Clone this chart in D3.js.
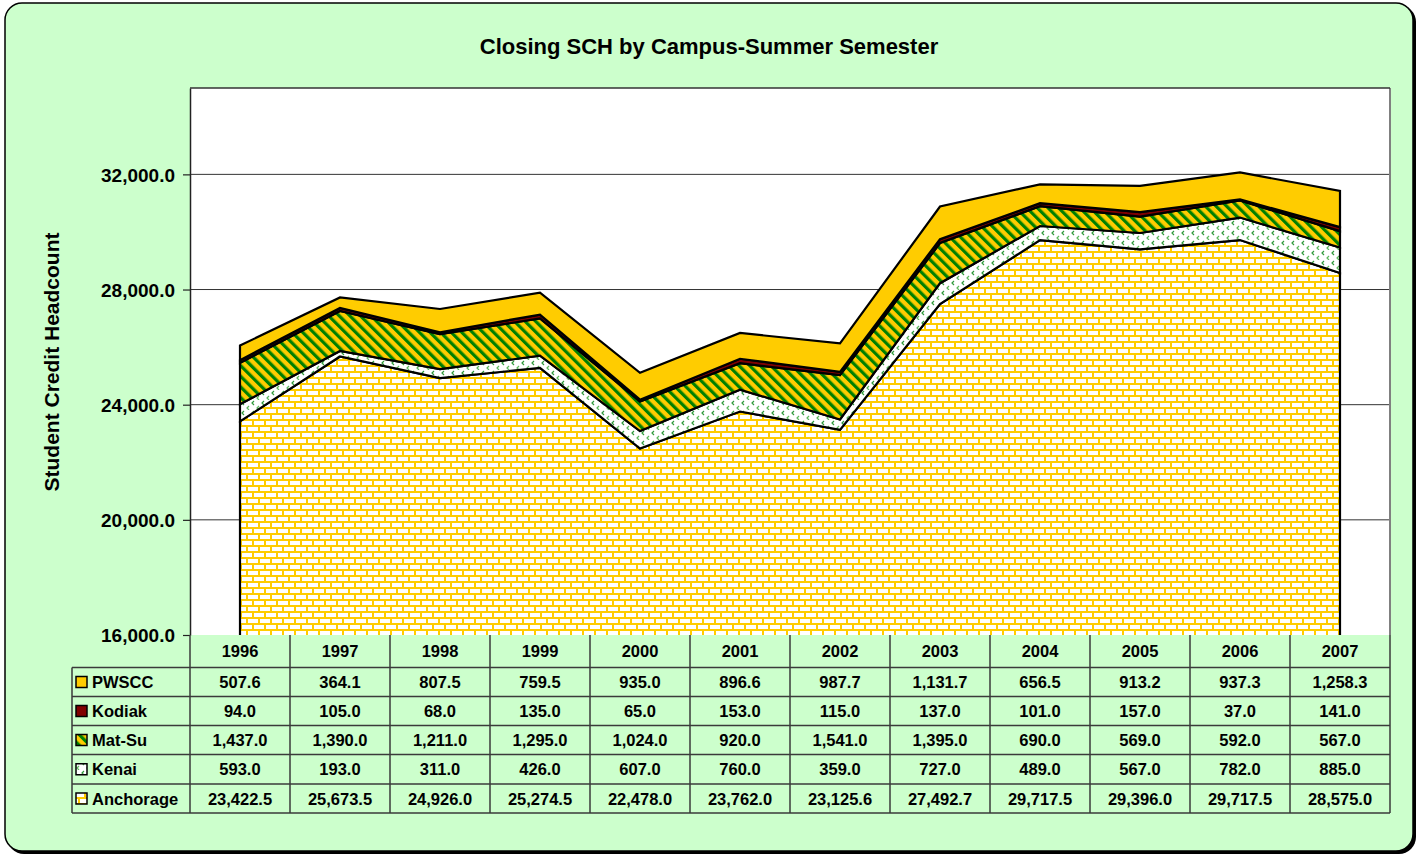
<!DOCTYPE html>
<html><head><meta charset="utf-8">
<script src="https://cdn.jsdelivr.net/npm/d3@7"></script>
<style>
html,body{margin:0;padding:0;background:#fff;}
svg{display:block;font-family:"Liberation Sans",Arial,sans-serif;}
</style></head>
<body>
<svg id="chart" width="1419" height="856"></svg>
<script>
const years = ["1996","1997","1998","1999","2000","2001","2002","2003","2004","2005","2006","2007"];
const anchorage = [23422.5,25673.5,24926.0,25274.5,22478.0,23762.0,23125.6,27492.7,29717.5,29396.0,29717.5,28575.0];
const kenai = [593.0,193.0,311.0,426.0,607.0,760.0,359.0,727.0,489.0,567.0,782.0,885.0];
const matsu = [1437.0,1390.0,1211.0,1295.0,1024.0,920.0,1541.0,1395.0,690.0,569.0,592.0,567.0];
const kodiak = [94.0,105.0,68.0,135.0,65.0,153.0,115.0,137.0,101.0,157.0,37.0,141.0];
const pwscc = [507.6,364.1,807.5,759.5,935.0,896.6,987.7,1131.7,656.5,913.2,937.3,1258.3];
const yTicks = [16000,20000,24000,28000,32000];
const title = "Closing SCH by Campus-Summer Semester";
const yTitle = "Student Credit Headcount";

const seriesNames = ["Anchorage","Kenai","Mat-Su","Kodiak","PWSCC"];
const seriesVals = [anchorage,kenai,matsu,kodiak,pwscc];
const fills = ["url(#brick)","url(#kenaiPat)","url(#stripes)","#800000","#FFCC00"];

const svg = d3.select("#chart");
const defs = svg.append("defs");

// brick pattern
const brick = defs.append("pattern").attr("id","brick").attr("patternUnits","userSpaceOnUse")
  .attr("width",12).attr("height",12);
brick.append("rect").attr("width",12).attr("height",12).attr("fill","#FFCC00");
[[2,1],[-4,7],[8,7]].forEach(([x,y])=>{
  brick.append("rect").attr("x",x).attr("y",y).attr("width",10).attr("height",4).attr("fill","#fff");
});
// kenai pattern
const kp = defs.append("pattern").attr("id","kenaiPat").attr("patternUnits","userSpaceOnUse")
  .attr("width",10).attr("height",10);
kp.append("rect").attr("width",10).attr("height",10).attr("fill","#fff");
kp.append("path").attr("d","M4,1 L2,3 L4,5").attr("fill","none").attr("stroke","#2f9a3a").attr("stroke-width",1.2);
kp.append("path").attr("d","M9,6 L7,8 L9,10").attr("fill","none").attr("stroke","#5cb85c").attr("stroke-width",1.2);
// stripes pattern
const sp = defs.append("pattern").attr("id","stripes").attr("patternUnits","userSpaceOnUse")
  .attr("width",7.5).attr("height",7.5).attr("patternTransform","rotate(-45)");
sp.append("rect").attr("width",7.5).attr("height",7.5).attr("fill","#FFCC00");
sp.append("rect").attr("width",3.2).attr("height",7.5).attr("fill","#008000");

// outer frame
svg.append("rect").attr("x",7).attr("y",5).attr("width",1409).attr("height",849).attr("rx",17)
  .attr("fill","#000");
svg.append("rect").attr("x",5).attr("y",3).attr("width",1408).attr("height",848).attr("rx",17)
  .attr("fill","#CCFFCC").attr("stroke","#000").attr("stroke-width",1.5);

const plotL=190, plotR=1390, plotT=88, plotB=635;
const x = d3.scaleBand().domain(years).range([plotL,plotR]);
const y = d3.scaleLinear().domain([16000,35000]).range([plotB,plotT]);

svg.append("rect").attr("x",plotL).attr("y",plotT).attr("width",plotR-plotL).attr("height",plotB-plotT).attr("fill","#fff");

// gridlines
svg.append("g").selectAll("line").data(yTicks.filter(d=>d>16000)).join("line")
  .attr("x1",plotL).attr("x2",plotR).attr("y1",d=>y(d)).attr("y2",d=>y(d))
  .attr("stroke","#333").attr("stroke-width",1);

// stack
const rows = years.map((yr,i)=>{const o={year:yr}; seriesNames.forEach((n,j)=>o[n]=seriesVals[j][i]); return o;});
const stack = d3.stack().keys(seriesNames)(rows);
defs.append("clipPath").attr("id","plotClip").append("rect")
  .attr("x",plotL).attr("y",plotT).attr("width",plotR-plotL).attr("height",plotB-plotT);
const area = d3.area().x(d=>x(d.data.year)+x.bandwidth()/2).y0(d=>y(d[0])).y1(d=>y(d[1]));
const g = svg.append("g").attr("clip-path","url(#plotClip)");
stack.forEach((s,i)=>{
  let a = area;
  if(i===0){ a = d3.area().x(d=>x(d.data.year)+x.bandwidth()/2).y0(plotB+3).y1(d=>y(d[1])); }
  g.append("path").datum(s).attr("d",a).attr("fill",fills[i])
    .attr("stroke","#000").attr("stroke-width",2.2).attr("stroke-linejoin","miter");
});

// plot border
svg.append("line").attr("x1",plotR).attr("x2",plotR).attr("y1",plotT).attr("y2",plotB).attr("stroke","#808080").attr("stroke-width",2);
svg.append("line").attr("x1",plotL).attr("x2",plotR).attr("y1",plotT).attr("y2",plotT).attr("stroke","#333").attr("stroke-width",1.5);

// y axis
const yAxis = d3.axisLeft(y).tickValues(yTicks).tickSize(7).tickSizeOuter(0).tickFormat(d3.format(",.1f"));
const ya = svg.append("g").attr("transform",`translate(${plotL},0)`).call(yAxis);
ya.select(".domain").attr("stroke","#222").attr("stroke-width",1.5);
ya.selectAll(".tick line").attr("stroke","#222").attr("stroke-width",1.2);
ya.selectAll(".tick text").attr("font-size","19px").attr("font-weight","bold").attr("fill","#000")
  .attr("font-family","Liberation Sans, Arial, sans-serif").attr("x",-15).attr("dy","0.36em");

// title
svg.append("text").attr("x",709).attr("y",54).attr("text-anchor","middle")
  .attr("font-size","22px").attr("font-weight","bold").text(title);
svg.append("text").attr("transform","translate(59,362) rotate(-90)").attr("text-anchor","middle")
  .attr("font-size","21px").attr("font-weight","bold").text(yTitle);

// data table
const tbl = svg.append("g");
const rowTops = [667.5,696.5,725.5,754.5,784];
const rowBot = 813;
const tableL = 72;
const lineCol = "#3a3a3a";
const fmt = d3.format(",.1f");
tbl.selectAll("text.yr").data(years).join("text").attr("class","yr")
  .attr("x",d=>x(d)+x.bandwidth()/2).attr("y",657).attr("text-anchor","middle")
  .attr("font-size","16.5px").attr("font-weight","bold").text(d=>d);
const tableOrder = [4,3,2,1,0];
tableOrder.forEach((si,r)=>{
  const top = rowTops[r];
  const bot = r<4 ? rowTops[r+1] : rowBot;
  const cy = (top+bot)/2;
  tbl.append("rect").attr("x",76).attr("y",cy-5.5).attr("width",11).attr("height",11)
    .attr("fill",fills[si]).attr("stroke","#000").attr("stroke-width",1.5);
  tbl.append("text").attr("x",92).attr("y",cy+6).attr("font-size","16.5px").attr("font-weight","bold")
    .text(seriesNames[si]);
  tbl.selectAll(null).data(seriesVals[si]).join("text")
    .attr("x",(d,i)=>x(years[i])+x.bandwidth()/2).attr("y",cy+6).attr("text-anchor","middle")
    .attr("font-size","16.5px").attr("font-weight","bold").text(d=>fmt(d));
});
tbl.selectAll("line.h").data(rowTops.concat([rowBot])).join("line").attr("class","h")
  .attr("x1",tableL).attr("x2",plotR).attr("y1",d=>d).attr("y2",d=>d)
  .attr("stroke",lineCol).attr("stroke-width",1.5);
const vx = years.map(d=>x(d)).concat([plotR]);
tbl.selectAll("line.v").data(vx).join("line").attr("class","v")
  .attr("x1",d=>d).attr("x2",d=>d).attr("y1",plotB).attr("y2",rowBot)
  .attr("stroke",lineCol).attr("stroke-width",1.5);
tbl.append("line").attr("x1",tableL).attr("x2",tableL).attr("y1",rowTops[0]).attr("y2",rowBot)
  .attr("stroke",lineCol).attr("stroke-width",1.5);
</script>
</body></html>
